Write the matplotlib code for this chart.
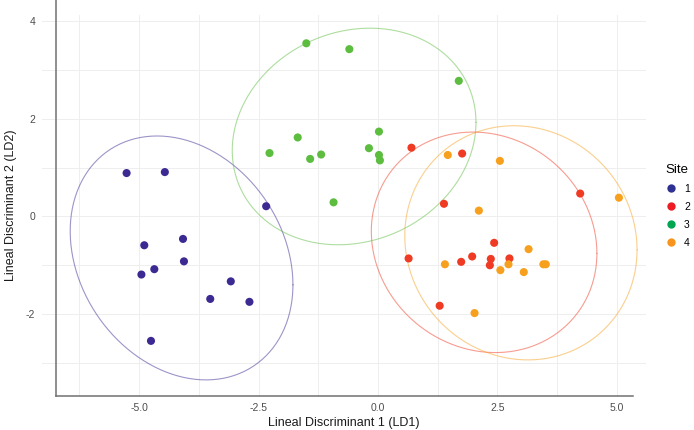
import numpy as np
import matplotlib
matplotlib.use('Agg')
import matplotlib.pyplot as plt
from matplotlib.lines import Line2D

plt.rcParams['font.family'] = ['Liberation Sans', 'DejaVu Sans']

# LDA scores per site
site1_ld1 = [-5.26, -4.46, -2.34, -4.89, -4.08, -4.06, -4.68, -4.95, -3.08, -3.51, -2.69, -4.75]
site1_ld2 = [0.89, 0.91, 0.21, -0.59, -0.46, -0.92, -1.08, -1.19, -1.33, -1.69, -1.75, -2.55]
site2_ld1 = [0.70, 1.76, 1.38, 4.23, 2.43, 0.64, 1.74, 1.97, 2.36, 2.34, 2.75, 1.29]
site2_ld2 = [1.41, 1.29, 0.26, 0.47, -0.54, -0.86, -0.93, -0.82, -0.87, -1.00, -0.86, -1.83]
site3_ld1 = [-1.50, -0.60, 1.69, -1.68, 0.02, -2.27, -1.42, -1.19, -0.19, 0.02, 0.04, -0.93]
site3_ld2 = [3.55, 3.43, 2.78, 1.62, 1.74, 1.30, 1.18, 1.27, 1.40, 1.26, 1.15, 0.29]
site4_ld1 = [1.46, 2.55, 2.11, 5.04, 3.15, 1.40, 2.56, 2.73, 3.05, 3.46, 3.51, 2.02]
site4_ld2 = [1.26, 1.14, 0.12, 0.385, -0.67, -0.98, -1.10, -0.98, -1.14, -0.98, -0.98, -1.98]

# 95% ellipses: centre, half extents, correlation
ell_cx = [-4.11, 2.22, -0.50, 2.99]
ell_cy = [-0.85, -0.53, 1.64, -0.54]
ell_hx = [2.33, 2.36, 2.55, 2.43]
ell_hy = [2.50, 2.26, 2.22, 2.40]
ell_r = [-0.22, -0.10, 0.13, -0.06]

sites = ['1', '2', '3', '4']
point_colors = ['#3C2A92', '#EF3B24', '#5CBD3F', '#F7A01E']
legend_colors = ['#2E3192', '#ED1C24', '#00A651', '#F7941D']
xs = [site1_ld1, site2_ld1, site3_ld1, site4_ld1]
ys = [site1_ld2, site2_ld2, site3_ld2, site4_ld2]

fig = plt.figure(figsize=(6.94, 4.30), dpi=100)
ax = fig.add_axes([42 / 694, 1 - 396 / 430, 604 / 694, 381 / 430])

x_lo, x_hi = -7.03, 5.607
y_lo, y_hi = -3.68, 4.13
ax.set_xlim(x_lo, x_hi)
ax.set_ylim(y_lo, y_hi)

# grid
for gx in [-6.25, -5, -3.75, -2.5, -1.25, 0, 1.25, 2.5, 3.75, 5]:
    ax.axvline(gx, color='#EEEEEE', lw=0.7, zorder=0)
for gy in [-3, -2, -1, 0, 1, 2, 3, 4]:
    ax.axhline(gy, color='#EEEEEE', lw=0.7, zorder=0)

t = np.linspace(0, 2 * np.pi, 240)
for i, c in enumerate(point_colors):
    r = ell_r[i]
    ex = ell_cx[i] + ell_hx[i] * np.cos(t)
    ey = ell_cy[i] + ell_hy[i] * (r * np.cos(t) + np.sqrt(1 - r ** 2) * np.sin(t))
    ax.plot(ex, ey, color=c, alpha=0.5, lw=0.8, zorder=1)

for c, x, y in zip(point_colors, xs, ys):
    ax.scatter(x, y, s=34, color=c, edgecolors='none', zorder=3)

for s in ax.spines.values():
    s.set_visible(False)

# axis lines (offset from panel edge like the reference)
ax.plot([-6.74, -6.74], [y_lo, 4.44], color='#707070', lw=1.1, clip_on=False, zorder=4)
ax.plot([-6.74, 5.33], [y_lo, y_lo], color='#707070', lw=1.1, clip_on=False, zorder=4)

ax.set_xticks([-5, -2.5, 0, 2.5, 5])
ax.set_xticklabels(['-5.0', '-2.5', '0.0', '2.5', '5.0'])
ax.set_yticks([-2, 0, 2, 4])
ax.set_yticklabels(['-2', '0', '2', '4'])
ax.tick_params(length=0, labelsize=7.5, labelcolor='#4D4D4D', pad=5)

ax.set_xlabel('Lineal Discriminant 1 (LD1)', fontsize=9, color='#1A1A1A', labelpad=3)
ax.set_ylabel('Lineal Discriminant 2 (LD2)', fontsize=9, color='#1A1A1A', labelpad=6)

handles = [Line2D([], [], marker='o', ls='none', markersize=6,
                  markerfacecolor=c, markeredgecolor='none') for c in legend_colors]
leg = fig.legend(handles, sites, title='Site', loc='upper left',
                 bbox_to_anchor=(657 / 694, 1 - 156 / 430), frameon=False,
                 fontsize=7.5, title_fontsize=9.5, handletextpad=0.8,
                 labelspacing=0.75, handlelength=1.0, borderpad=0.3)
leg._legend_box.align = 'left'

fig.savefig('out.png', dpi=100)
